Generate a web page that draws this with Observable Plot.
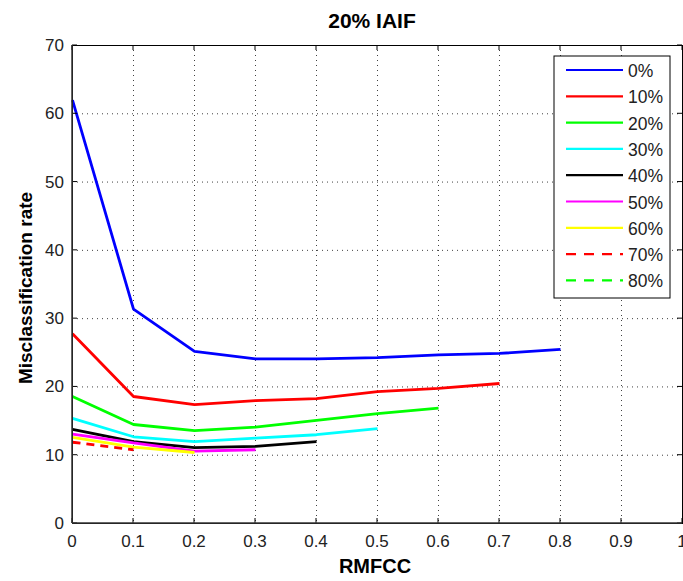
<!DOCTYPE html>
<html><head><meta charset="utf-8">
<script src="https://cdn.jsdelivr.net/npm/d3@7"></script>
<script src="https://cdn.jsdelivr.net/npm/@observablehq/plot@0.6"></script>
<style>
html,body{margin:0;padding:0;background:#fff;}
svg text{font-family:"Liberation Sans",Arial,sans-serif;}
</style>
</head><body>
<div id="chart"></div>
<script>
const rmfcc = [0, 0.1, 0.2, 0.3, 0.4, 0.5, 0.6, 0.7, 0.8];
const s0  = [62.0, 31.4, 25.2, 24.1, 24.1, 24.3, 24.7, 24.9, 25.5];
const s10 = [27.8, 18.6, 17.4, 18.0, 18.3, 19.3, 19.8, 20.5];
const s20 = [18.6, 14.5, 13.6, 14.1, 15.1, 16.1, 16.9];
const s30 = [15.4, 12.7, 12.0, 12.5, 13.0, 13.9];
const s40 = [13.8, 12.0, 11.1, 11.3, 12.0];
const s50 = [13.1, 11.8, 10.6, 10.8];
const s60 = [12.6, 11.2, 10.4];
const s70 = [11.9, 10.8];
const s80 = [11.9];
const seriesNames = ["0%", "10%", "20%", "30%", "40%", "50%", "60%", "70%", "80%"];
const seriesValues = [s0, s10, s20, s30, s40, s50, s60, s70, s80];
const seriesColors = ["#0000ff", "#ff0000", "#00ff00", "#00ffff", "#000000", "#ff00ff", "#ffff00", "#ff0000", "#00ff00"];
const seriesDash = [null, null, null, null, null, null, null, "8,6", "8,6"];
const xTicks = [0, 0.1, 0.2, 0.3, 0.4, 0.5, 0.6, 0.7, 0.8, 0.9, 1];
const yTicks = [0, 10, 20, 30, 40, 50, 60, 70];
const xTickLabels = ["0", "0.1", "0.2", "0.3", "0.4", "0.5", "0.6", "0.7", "0.8", "0.9", "1"];
const yTickLabels = ["0", "10", "20", "30", "40", "50", "60", "70"];
const titleText = "20% IAIF";
const xLabel = "RMFCC";
const yLabel = "Misclassification rate";

const W = 683, H = 581;
const mL = 72, mR = 1, mT = 45, mB = 58;

const lineMarks = seriesValues.map((vals, k) =>
  Plot.line(vals.map((v, i) => ({x: rmfcc[i], y: v})), {
    x: "x", y: "y", stroke: seriesColors[k], strokeWidth: 2.8,
    strokeDasharray: seriesDash[k] || undefined, strokeLinejoin: "miter", strokeLinecap: "butt"
  })
);

const plot = Plot.plot({
  width: W, height: H,
  marginLeft: mL, marginRight: mR, marginTop: mT, marginBottom: mB,
  style: {background: "#fff", fontFamily: "Liberation Sans, Arial, sans-serif", color: "#000", overflow: "visible"},
  x: {domain: [0, 1], axis: null},
  y: {domain: [0, 70], axis: null},
  marks: [
    Plot.gridX(xTicks, {stroke: "#000", strokeOpacity: 0.75, strokeDasharray: "1,4"}),
    Plot.gridY(yTicks, {stroke: "#000", strokeOpacity: 0.75, strokeDasharray: "1,4"}),
    ...lineMarks,
    Plot.frame({stroke: "#000", strokeWidth: 1})
  ]
});

const svg = d3.select(plot);
const xs = plot.scale("x"), ys = plot.scale("y");
const g = svg.append("g");
// inward ticks (MATLAB style) and tick labels
xTicks.forEach((t, i) => {
  const px = xs.apply(t);
  g.append("line").attr("x1", px).attr("x2", px).attr("y1", H - mB).attr("y2", H - mB - 5).attr("stroke", "#000");
  g.append("line").attr("x1", px).attr("x2", px).attr("y1", mT).attr("y2", mT + 5).attr("stroke", "#000");
  g.append("text").attr("x", px).attr("y", 547).attr("text-anchor", "middle")
    .attr("font-size", 17).style("font-size", "17px").attr("fill", "#222").text(xTickLabels[i]);
});
yTicks.forEach((t, i) => {
  const py = ys.apply(t);
  g.append("line").attr("x1", mL).attr("x2", mL + 5).attr("y1", py).attr("y2", py).attr("stroke", "#000");
  g.append("line").attr("x1", W - mR).attr("x2", W - mR - 5).attr("y1", py).attr("y2", py).attr("stroke", "#000");
  g.append("text").attr("x", mL - 8).attr("y", py + 6).attr("text-anchor", "end")
    .attr("font-size", 17).style("font-size", "17px").attr("fill", "#222").text(yTickLabels[i]);
});
// axis lines darker
g.append("line").attr("x1", mL).attr("x2", W - mR).attr("y1", H - mB).attr("y2", H - mB).attr("stroke", "#333").attr("stroke-width", 1.5);
g.append("line").attr("x1", mL).attr("x2", mL).attr("y1", mT).attr("y2", H - mB).attr("stroke", "#333").attr("stroke-width", 1.5);

// title & axis labels
svg.append("text").attr("x", 372).attr("y", 28).attr("text-anchor", "middle")
  .style("font-size", "21px").attr("font-weight", "bold").text(titleText);
svg.append("text").attr("x", 375).attr("y", 573).attr("text-anchor", "middle")
  .style("font-size", "20px").attr("font-weight", "bold").text(xLabel);
svg.append("text").attr("transform", `translate(32,288) rotate(-90)`).attr("text-anchor", "middle")
  .style("font-size", "19px").attr("font-weight", "bold").text(yLabel);

// legend
const lg = svg.append("g");
const lx = 554, ly = 56, lw = 116, lh = 242, rowH = 26.3, firstRow = 70;
lg.append("rect").attr("x", lx).attr("y", ly).attr("width", lw).attr("height", lh)
  .attr("fill", "#fff").attr("stroke", "#000").attr("stroke-width", 1);
seriesNames.forEach((name, k) => {
  const yy = firstRow + k * rowH;
  lg.append("line").attr("x1", 566).attr("x2", 623).attr("y1", yy).attr("y2", yy)
    .attr("stroke", seriesColors[k]).attr("stroke-width", 2.2)
    .attr("stroke-dasharray", seriesDash[k] ? "10,8" : null);
  lg.append("text").attr("x", 628).attr("y", yy + 7).attr("text-anchor", "start")
    .style("font-size", "17.5px").attr("fill", "#222").text(name);
});

document.getElementById("chart").appendChild(plot);
</script>
</body></html>
